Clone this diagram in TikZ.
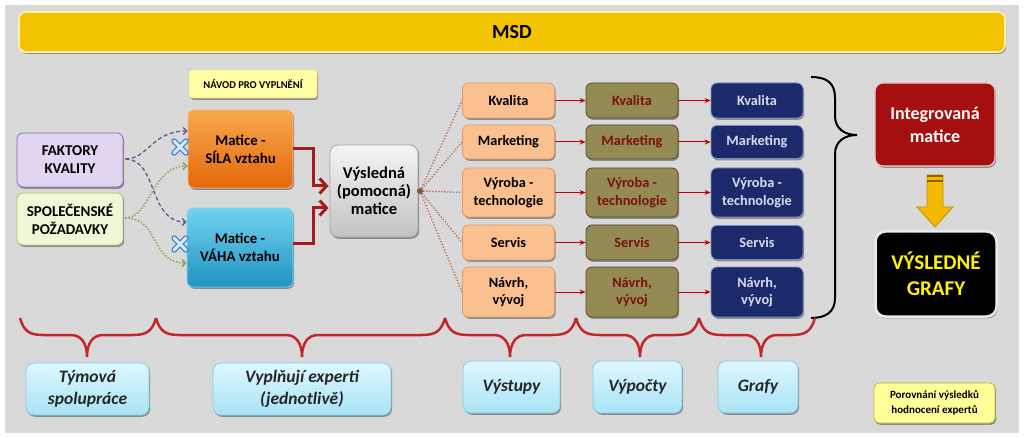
\documentclass[tikz,border=0pt]{standalone}
\usepackage{fontspec}
\setmainfont{Carlito}
\usetikzlibrary{arrows.meta,shadows,calc}
\definecolor{panel}{HTML}{D9D9D9}
\definecolor{msdfill}{HTML}{F2C300}
\definecolor{msdline}{HTML}{FFF1B0}
\definecolor{navodfill}{HTML}{FFFFA6}
\definecolor{navodline}{HTML}{EEE08A}
\definecolor{fkfill}{HTML}{E2D5F2}
\definecolor{fkline}{HTML}{8B6BAE}
\definecolor{spfill}{HTML}{EEF8D6}
\definecolor{spline}{HTML}{A7C774}
\definecolor{silatop}{HTML}{F9A84E}
\definecolor{silabot}{HTML}{E3680A}
\definecolor{silaline}{HTML}{F6B877}
\definecolor{vahatop}{HTML}{72D2EE}
\definecolor{vahabot}{HTML}{1F94C2}
\definecolor{vahaline}{HTML}{86D6EE}
\definecolor{vystop}{HTML}{F4F4F4}
\definecolor{vysbot}{HTML}{C2C2C2}
\definecolor{vysline}{HTML}{A6A6A6}
\definecolor{peach}{HTML}{FAC090}
\definecolor{peachline}{HTML}{E09A62}
\definecolor{olive}{HTML}{948A54}
\definecolor{oliveline}{HTML}{4F4A28}
\definecolor{olivetext}{HTML}{7B1010}
\definecolor{navy}{HTML}{1B2A6B}
\definecolor{navyline}{HTML}{7A8AC8}
\definecolor{navytext}{HTML}{D5DCEE}
\definecolor{integ}{HTML}{A50F0F}
\definecolor{integline}{HTML}{F0C8C8}
\definecolor{cyantop}{HTML}{DDF7FF}
\definecolor{cyanbot}{HTML}{A9E3F5}
\definecolor{cyanline}{HTML}{84CDE6}
\definecolor{porovfill}{HTML}{FFFF99}
\definecolor{porovline}{HTML}{BFB24A}
\definecolor{arrred}{HTML}{C00000}
\definecolor{elbowred}{HTML}{A31B1B}
\definecolor{bracered}{HTML}{C3262B}
\definecolor{dashpurple}{HTML}{6A5488}
\definecolor{dotgreen}{HTML}{86A856}
\definecolor{fanbrown}{HTML}{B0704F}
\definecolor{arrowgold}{HTML}{F5B800}
\definecolor{arrowgoldline}{HTML}{C88E00}
\definecolor{crossline}{HTML}{3F7FC8}
\definecolor{crossfill}{HTML}{D4EAFB}
\newcommand\fs[2]{\fontsize{#1}{#2}\selectfont}
\newcommand\dnbrace[3]{%
  \draw[redbrace] (#1,318) .. controls ({#1+4},332) and ({#1+10},335) .. ({#1+24},335)
    -- ({#2-16},335) .. controls ({#2-6},335) and (#2,343) .. (#2,357)
    .. controls (#2,343) and ({#2+6},335) .. ({#2+16},335)
    -- ({#3-24},335) .. controls ({#3-10},335) and ({#3-4},332) .. (#3,318);}
\newcommand\xmark[2]{%
  \draw[line width=5.4pt,crossline,line cap=round] ({#1-6},{#2-6}) -- ({#1+6},{#2+6}) ({#1-6},{#2+6}) -- ({#1+6},{#2-6});
  \draw[line width=3pt,crossfill,line cap=round] ({#1-6},{#2-6}) -- ({#1+6},{#2+6}) ({#1-6},{#2+6}) -- ({#1+6},{#2-6});}
\begin{document}
\begin{tikzpicture}[x=1pt,y=-1pt,
  shad/.style={drop shadow={shadow xshift=1.2pt,shadow yshift=-1.8pt,opacity=0.35,fill=black}},
  bx/.style={rounded corners=6pt,align=center,inner sep=2pt,line width=0.8pt,shad},
  colbox/.style={bx,minimum width=92pt,font=\fs{14.3}{17.5}\bfseries},
  pe/.style={colbox,fill=peach,draw=peachline},
  ol/.style={colbox,fill=olive,draw=oliveline,text=olivetext},
  nv/.style={colbox,fill=navy,draw=navyline,text=navytext},
  cy/.style={bx,rounded corners=8pt,top color=cyantop,bottom color=cyanbot,draw=cyanline,
     font=\fs{17.5}{21.5}\bfseries\itshape,text=black!85},
  thinarr/.style={arrred,line width=1pt,-{Stealth[length=6pt,width=5pt]}},
  elbow/.style={elbowred,line width=3pt,-{Straight Barb[length=7pt,width=15pt]}},
  dasharr/.style={dashpurple,line width=1.3pt,dash pattern=on 4pt off 2.5pt,-{Straight Barb[length=3.5pt,width=7pt]}},
  dotarr/.style={dotgreen,line width=1.6pt,dash pattern=on 1.4pt off 1.8pt,-{Straight Barb[length=3.5pt,width=7pt]}},
  fanline/.style={fanbrown,line width=1.3pt,dash pattern=on 1.3pt off 1.7pt},
  redbrace/.style={bracered,line width=2.5pt},
  blackbrace/.style={black,line width=2pt}]
\useasboundingbox (0,0) rectangle (1024,438);
\fill[white] (0,0) rectangle (1024,438);
\fill[panel] (5,5) rectangle (1019,433);

% title bar
\node[bx,rounded corners=7pt,fill=msdfill,draw=msdline,line width=1.6pt,minimum width=986pt,minimum height=40pt,
  font=\fs{20}{22}\bfseries] (msd) at (512,32) {MSD};

\node[bx,rounded corners=3pt,fill=navodfill,draw=navodline,minimum width=128pt,minimum height=28pt,
  font=\fs{10.5}{12}\bfseries] (navod) at (253,84) {NÁVOD PRO VYPLNĚNÍ};

% left inputs
\node[bx,fill=fkfill,draw=fkline,minimum width=106pt,minimum height=54pt,font=\fs{15}{18}\bfseries] (fk) at (70,160) {FAKTORY\\KVALITY};
\node[bx,fill=spfill,draw=spline,minimum width=106pt,minimum height=52pt,font=\fs{15}{18}\bfseries] (sp) at (70,219) {SPOLEČENSKÉ\\POŽADAVKY};

% matrices
\node[bx,top color=silatop,bottom color=silabot,draw=silaline,minimum width=105pt,minimum height=78pt,
  font=\fs{14.8}{18}\bfseries] (sila) at (240.5,149) {Matice -\\SÍLA vztahu};
\node[bx,top color=vahatop,bottom color=vahabot,draw=vahaline,minimum width=106pt,minimum height=79pt,
  font=\fs{14.8}{18}\bfseries] (vaha) at (240,247.5) {Matice -\\VÁHA vztahu};
\node[bx,rounded corners=8pt,top color=vystop,bottom color=vysbot,draw=vysline,minimum width=88pt,minimum height=92pt,
  font=\fs{16.5}{18}\bfseries] (vysl) at (374,191) {Výsledná\\(pomocná)\\matice};

% connectors on the left
\draw[dasharr] (fk.east) ++(2,-1) .. controls (148,159) and (152,131) .. (sila.west |- 0,131);
\draw[dasharr] (fk.east) ++(2,-1) .. controls (158,159) and (148,222) .. (vaha.west |- 0,222);
\draw[dotarr] (sp.east) ++(2,-1) .. controls (150,218) and (152,166) .. (sila.west |- 0,166);
\draw[dotarr] (sp.east) ++(2,-1) .. controls (160,218) and (150,263) .. (vaha.west |- 0,263);
\xmark{180}{147}
\xmark{180}{244}

\draw[elbow] (sila.east) -- ++(20,0) |- ($(vysl.west)+(-1,-5)$);
\draw[elbow] ($(vaha.east)+(0,-4)$) -- ++(20,0) |- ($(vysl.west)+(-1,17)$);

% columns
\node[pe,minimum height=35pt] (p1) at (508.5,100.5) {Kvalita};
\node[pe,minimum height=34pt] (p2) at (508.5,142) {Marketing};
\node[pe,minimum height=49pt] (p3) at (508.5,192.5) {Výroba -\\technologie};
\node[pe,minimum height=35pt] (p4) at (508.5,242.5) {Servis};
\node[pe,minimum height=50pt] (p5) at (508.5,292) {Návrh,\\vývoj};

\node[ol,minimum height=35pt] (o1) at (632,100.5) {Kvalita};
\node[ol,minimum height=34pt] (o2) at (632,142) {Marketing};
\node[ol,minimum height=49pt] (o3) at (632,192.5) {Výroba -\\technologie};
\node[ol,minimum height=35pt] (o4) at (632,242.5) {Servis};
\node[ol,minimum height=50pt] (o5) at (632,292) {Návrh,\\vývoj};

\node[nv,minimum height=35pt] (n1) at (757,100.5) {Kvalita};
\node[nv,minimum height=33pt] (n2) at (757,142) {Marketing};
\node[nv,minimum height=49pt] (n3) at (757,192.5) {Výroba -\\technologie};
\node[nv,minimum height=34pt] (n4) at (757,242.5) {Servis};
\node[nv,minimum height=50pt] (n5) at (757,292) {Návrh,\\vývoj};

\node[circle,fill=fanbrown!75!black,inner sep=0pt,minimum size=6pt] (fan) at (420,191) {};
\foreach \i in {1,...,5} {
  \draw[fanline] (fan) -- (p\i.west);
  \draw[thinarr] (p\i.east) -- (o\i.west);
  \draw[thinarr] (o\i.east) -- (n\i.west);
}

% black brace
\draw[blackbrace] (811,77) .. controls (828,77) and (835,84) .. (835,98) -- (835,116)
  .. controls (835,129) and (845,135) .. (857,135)
  .. controls (845,135) and (835,141) .. (835,154) -- (835,298)
  .. controls (835,312) and (826,318) .. (811,318);

% right side
\node[bx,rounded corners=8pt,fill=integ,draw=integline,line width=1.2pt,minimum width=120pt,minimum height=83pt,
  text=white,font=\fs{18}{23}\bfseries] (integ) at (935,124.5) {Integrovaná\\matice};
\node[bx,rounded corners=10pt,fill=black,draw=white!92!black,line width=2.5pt,minimum width=121pt,minimum height=85pt,
  text=yellow,font=\fs{21}{26}\bfseries] (graf) at (936,274) {VÝSLEDNÉ\\GRAFY};
\filldraw[fill=arrowgold,draw=arrowgoldline,line width=0.8pt]
  (927,175) -- (943,175) -- (943,207) -- (953,207) -- (935,227) -- (917,207) -- (927,207) -- cycle;
\fill[arrowgoldline!70!black] (927,175) rectangle (943,177.5);
\fill[arrowgoldline!70!black] (927,180.5) rectangle (943,182);

% red braces
\dnbrace{20}{87}{156}
\dnbrace{156}{302}{445}
\dnbrace{445}{510}{576}
\dnbrace{576}{640}{699}
\dnbrace{699}{761}{815}

% bottom labels
\node[cy,minimum width=123pt,minimum height=52pt] (tym) at (87.5,389) {Týmová\\spolupráce};
\node[cy,minimum width=178pt,minimum height=52pt] (vyp) at (302,389) {Vyplňují experti\\(jednotlivě)};
\node[cy,minimum width=97pt,minimum height=52pt] (vyst) at (511.5,387) {Výstupy};
\node[cy,minimum width=89pt,minimum height=52pt] (vypo) at (637.5,387) {Výpočty};
\node[cy,minimum width=80pt,minimum height=52pt] (graf2) at (758,387) {Grafy};
\node[bx,rounded corners=5pt,fill=porovfill,draw=porovline,minimum width=121pt,minimum height=40pt,
  font=\fs{11}{14.5}\bfseries] (porov) at (934.5,403) {Porovnání výsledků\\hodnocení expertů};
\end{tikzpicture}
\end{document}
